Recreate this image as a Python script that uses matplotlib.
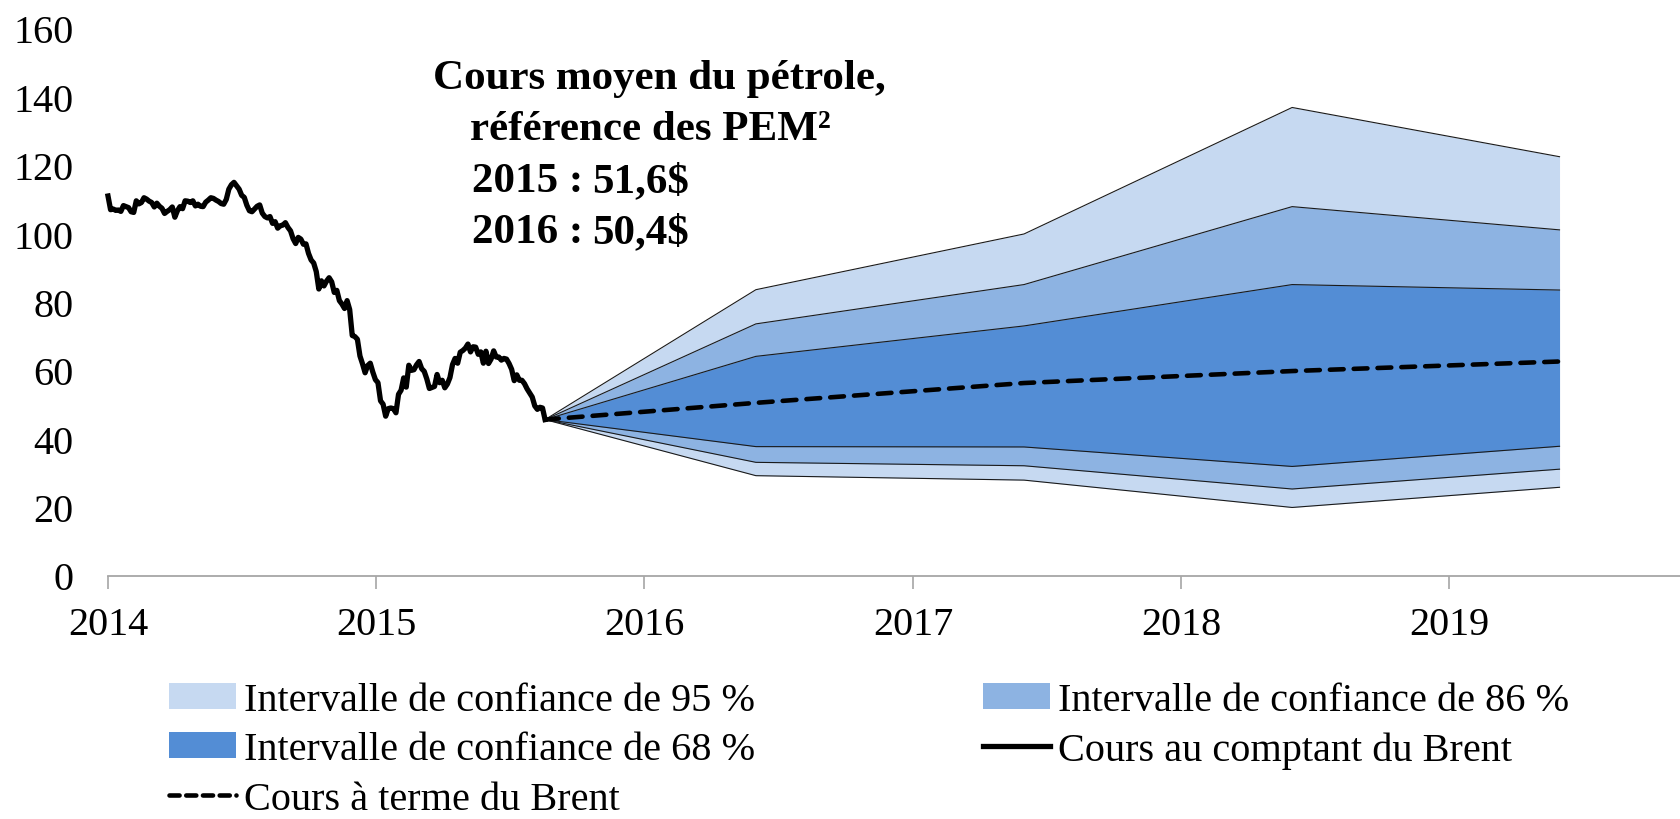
import matplotlib
matplotlib.use('Agg')
import matplotlib.pyplot as plt
from matplotlib.patches import Patch
from matplotlib.lines import Line2D
import pandas as pd

plt.rcParams['font.family'] = ['Liberation Serif', 'DejaVu Serif']

# ---------------- data ----------------
spot_start = '2014-01-01'
spot_end = '2015-08-19'
spot_values = [
    # 2014
    111.0, 107.0, 107.2, 106.8, 106.9, 106.5, 108.2, 107.9, 107.6,
    106.4, 106.2, 109.6, 108.7, 109.1, 110.5, 110.1, 109.5,
    109.1, 107.8, 108.9, 108.0, 107.4, 105.9, 106.5, 107.0, 107.8,
    104.8, 106.7, 107.9, 107.3, 109.6, 109.5, 109.1, 109.6, 108.1,
    108.6, 108.0, 107.9, 109.2, 109.8, 110.5, 110.3, 109.8,
    109.4, 108.8, 108.6, 110.0, 113.0, 114.3, 115.0, 114.0, 113.0,
    111.2, 110.6, 108.3, 106.7, 106.4, 107.2, 108.0, 108.4, 106.0,
    105.0, 104.6, 105.0, 103.0, 103.5, 101.6, 102.3, 102.5, 103.2,
    101.8, 100.8, 98.5, 97.1, 98.9, 98.4, 96.9, 97.0,
    94.2, 92.3, 91.4, 88.9, 83.8, 86.2, 84.7, 86.1, 87.1,
    85.9, 82.8, 83.4, 80.4, 79.4, 78.1, 80.4, 77.8, 70.2,
    69.9, 69.1, 64.2, 61.9, 59.3, 61.4, 62.1, 59.5, 57.3,
    # 2015
    56.4, 51.1, 50.1, 46.6, 48.8, 49.0, 48.8, 47.6,
    53.0, 54.2, 57.8, 55.1, 61.5, 60.0, 60.2, 61.6,
    62.6, 60.5, 59.7, 57.5, 54.7, 55.0, 55.3, 58.8, 56.4,
    57.1, 54.9, 56.0, 57.9, 61.7, 63.5, 62.1, 65.3, 65.8,
    66.5, 67.7, 65.4, 66.9, 66.8, 64.7, 65.4, 62.1, 65.6,
    62.0, 63.3, 65.7, 63.9, 63.9, 63.0, 63.5, 63.3,
    62.0, 60.3, 57.0, 58.7, 57.1, 57.1, 56.1, 54.6, 53.4,
    52.2, 49.6, 48.6, 49.2, 49.0, 45.6,
]

fan_dates = ['2015-08-19', '2016-06-01', '2017-06-01', '2018-06-01', '2019-05-31']
upper95 = [45.6, 83.6, 99.9, 136.9, 122.5]
upper86 = [45.6, 73.6, 85.1, 107.9, 101.1]
upper68 = [45.6, 64.1, 73.0, 85.1, 83.5]
lower68 = [45.6, 37.7, 37.6, 31.9, 37.8]
lower86 = [45.6, 33.1, 32.1, 25.3, 31.1]
lower95 = [45.6, 29.2, 27.9, 19.9, 25.8]
forward = [45.6, 50.5, 56.3, 59.8, 62.6]

years = [2014, 2015, 2016, 2017, 2018, 2019]
y_ticks = [0, 20, 40, 60, 80, 100, 120, 140, 160]

labels = {
    'c95': 'Intervalle de confiance de 95 %',
    'c86': 'Intervalle de confiance de 86 %',
    'c68': 'Intervalle de confiance de 68 %',
    'spot': 'Cours au comptant du Brent',
    'fwd': 'Cours à terme du Brent',
}
box_lines = ['Cours moyen du pétrole,', 'référence des PEM²']
box_years = ['2015 :', '2016 :']
box_prices = ['51,6$', '50,4$']

# ---------------- style ----------------
C95 = '#c6d9f1'
C86 = '#8db3e2'
C68 = '#538dd5'
FS = 29

W, H = 1680, 820
fig = plt.figure(figsize=(W / 100, H / 100), dpi=100)
ax_left, ax_bottom_px, ax_top_px = 108, 576.5, 29.5
ax = fig.add_axes([ax_left / W, 1 - ax_bottom_px / H, 1 - ax_left / W,
                   (ax_bottom_px - ax_top_px) / H])

spot_dates = pd.date_range(spot_start, spot_end, periods=len(spot_values))
fd = pd.to_datetime(fan_dates)

ax.fill_between(fd, lower95, upper95, color=C95, lw=0, zorder=1)
ax.fill_between(fd, lower86, upper86, color=C86, lw=0, zorder=2)
ax.fill_between(fd, lower68, upper68, color=C68, lw=0, zorder=3)
for arr in (upper95, upper86, upper68, lower68, lower86, lower95):
    ax.plot(fd, arr, color='#1a1a1a', lw=0.8, zorder=4)

ax.plot(fd, forward, color='black', lw=3.3, dashes=(3.0, 2.2),
        dash_capstyle='round', zorder=5)
ax.plot(spot_dates, spot_values, color='black', lw=3.8,
        solid_joinstyle='round', zorder=6, clip_on=False)

ax.set_ylim(0, 160)
ax.set_xlim(pd.Timestamp('2014-01-01'), pd.Timestamp('2019-11-11'))
ax.set_yticks(y_ticks)
ax.set_yticklabels([str(v) for v in y_ticks])
ax.set_xticks([pd.Timestamp(f'{y}-01-01') for y in years])
ax.set_xticklabels([str(y) for y in years])

for s in ('top', 'right', 'left'):
    ax.spines[s].set_visible(False)
ax.spines['bottom'].set_color('#a6a6a6')
ax.spines['bottom'].set_linewidth(1.3)
ax.tick_params(axis='x', direction='out', length=9, width=1.2,
               color='#a6a6a6', labelsize=FS, pad=13)
ax.tick_params(axis='y', length=0, labelsize=FS, pad=25)

# ---------------- annotation ----------------
def fx(px):
    return px / W

def fy(py):
    return 1 - py / H

TFS = 31
fig.text(fx(659), fy(79), box_lines[0], ha='center', va='center',
         fontsize=TFS, fontweight='bold')
fig.text(fx(650), fy(130), box_lines[1], ha='center', va='center',
         fontsize=TFS, fontweight='bold')
for i, (yl, pr) in enumerate(zip(box_years, box_prices)):
    yy = 182 + i * 51
    fig.text(fx(472), fy(yy), yl, ha='left', va='center',
             fontsize=TFS, fontweight='bold')
    fig.text(fx(592), fy(yy), pr, ha='left', va='center',
             fontsize=TFS, fontweight='bold')

# ---------------- legend ----------------
h95 = Patch(facecolor=C95, edgecolor='none', label=labels['c95'])
h86 = Patch(facecolor=C86, edgecolor='none', label=labels['c86'])
h68 = Patch(facecolor=C68, edgecolor='none', label=labels['c68'])
hspot = Line2D([], [], color='black', lw=3.8, label=labels['spot'])
hfwd = Line2D([], [], color='black', lw=3.3, dashes=(2.2, 1.45),
              dash_capstyle='round', label=labels['fwd'])

leg_kw = dict(loc='upper left', frameon=False, fontsize=FS,
              handlelength=1.66, handleheight=0.62, handletextpad=0.2,
              labelspacing=0.31, borderpad=0, borderaxespad=0)
fig.legend(handles=[h95, h68, hfwd], bbox_to_anchor=(fx(169), fy(683)), **leg_kw)
fig.legend(handles=[h86, hspot], bbox_to_anchor=(fx(983), fy(683)), **leg_kw)

fig.savefig('out.png', dpi=100)
